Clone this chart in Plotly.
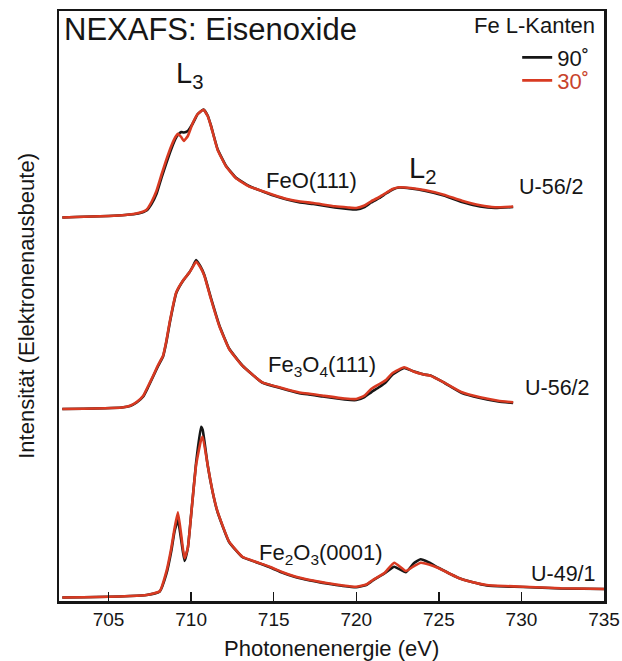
import plotly.graph_objects as go

# ---------------- data ----------------
# Energies in eV, intensities in arbitrary units (relative to each spectrum's own offset)
feo_e = [702.2, 703.0, 704.0, 705.0, 706.0, 706.8, 707.3, 707.6, 707.9, 708.2, 708.5, 708.8,
         709.05, 709.2, 709.4, 709.56, 709.8, 710.1, 710.4, 710.75, 711.0, 711.2, 711.6, 712.1,
         712.7, 713.5, 714.3, 715.0, 715.8, 716.6, 717.4, 718.7, 719.5, 720.0, 720.5, 720.9,
         721.4, 721.8, 722.2, 722.6, 723.3, 724.2, 725.3, 726.4, 727.5, 728.4, 729.5]
feo_90 = [6.5, 7.0, 7.5, 8.0, 9.0, 10.5, 13.5, 20.0, 30.0, 46.0, 61.0, 75.0,
          85.0, 89.0, 92.0, 91.5, 93.0, 100.5, 110.0, 114.5, 108.5, 98.5, 75.0, 58.5,
          46.5, 38.0, 32.8, 28.5, 24.5, 21.5, 20.0, 16.5, 15.0, 14.5, 17.0, 21.5,
          26.0, 30.5, 34.5, 36.5, 35.5, 33.0, 28.5, 22.0, 17.5, 16.0, 17.0]
feo_30 = [6.5, 7.0, 7.5, 8.0, 9.0, 11.0, 14.3, 22.0, 33.0, 49.0, 64.3, 78.0,
          87.0, 90.3, 87.0, 83.0, 88.0, 101.0, 110.0, 114.3, 108.0, 98.0, 74.3, 58.0,
          46.0, 37.7, 33.0, 29.0, 25.0, 22.5, 21.0, 17.7, 16.5, 16.0, 18.5, 22.7,
          27.0, 31.0, 35.0, 36.7, 36.0, 33.7, 29.3, 23.3, 18.7, 16.7, 17.5]

fe3o4_e = [702.2, 703.5, 704.8, 705.8, 706.3, 706.7, 707.1, 707.4, 707.7, 708.0, 708.3, 708.5,
           708.7, 708.9, 709.1, 709.5, 709.9, 710.1, 710.3, 710.55, 710.8, 711.2, 711.7, 712.3,
           713.1, 714.3, 715.5, 716.5, 718.0, 719.3, 720.0, 720.5, 720.9, 721.4, 721.8, 722.2,
           722.9, 723.5, 724.1, 724.5, 725.3, 726.4, 727.5, 728.6, 729.5]
fe3o4_90 = [6.0, 6.3, 6.7, 7.5, 9.0, 12.5, 18.5, 28.0, 38.5, 49.0, 58.5, 73.0,
            91.5, 108.0, 122.0, 134.0, 142.7, 148.5, 155.0, 149.0, 140.0, 117.0, 90.0, 66.5,
            49.5, 32.5, 26.5, 22.0, 18.5, 15.5, 15.0, 18.0, 22.7, 28.0, 33.0, 40.5,
            47.0, 43.5, 40.5, 39.5, 32.5, 22.0, 17.0, 13.5, 12.0]
fe3o4_30 = [6.0, 6.3, 6.7, 7.5, 9.3, 13.0, 19.3, 29.0, 39.3, 50.0, 59.3, 74.0,
            92.7, 109.0, 122.7, 134.3, 142.7, 148.0, 153.3, 148.0, 139.3, 116.0, 89.3, 66.0,
            49.3, 32.7, 27.0, 22.7, 19.3, 16.5, 16.0, 19.3, 26.0, 31.0, 35.0, 42.0,
            47.7, 43.3, 40.5, 39.3, 32.7, 22.7, 17.7, 14.3, 12.7]

fe2o3_e = [702.2, 703.5, 705.0, 706.3, 707.3, 708.1, 708.5, 708.8, 709.0, 709.2, 709.4, 709.6,
           709.8, 710.0, 710.3, 710.6, 710.7, 711.0, 711.3, 711.6, 712.3, 713.1, 713.9, 714.8,
           715.5, 716.3, 717.2, 718.2, 719.2, 720.0, 720.6, 721.0, 721.7, 722.3, 723.0, 723.5,
           723.9, 724.4, 725.0, 726.2, 727.0, 727.9, 729.0, 730.1, 732.4, 735.0]
fe2o3_90 = [3.5, 3.8, 4.2, 5.0, 6.0, 9.5, 27.0, 50.0, 70.0, 81.0, 61.0, 40.0,
            53.0, 86.0, 138.0, 174.3, 171.0, 136.0, 109.3, 89.0, 59.0, 44.0, 39.0, 33.5,
            28.5, 24.0, 20.5, 17.5, 15.0, 13.8, 16.0, 20.5, 27.5, 34.3, 28.7, 38.0,
            41.7, 38.5, 33.0, 23.0, 19.0, 15.5, 14.5, 14.0, 12.5, 12.0]
fe2o3_30 = [3.5, 3.8, 4.2, 5.0, 6.0, 9.8, 29.3, 53.0, 73.0, 88.7, 66.0, 42.7,
            53.0, 86.0, 136.0, 161.0, 164.3, 136.0, 109.3, 89.3, 59.3, 44.3, 39.3, 34.0,
            29.0, 24.5, 21.0, 18.0, 15.5, 14.3, 16.5, 21.0, 28.0, 38.3, 30.0, 35.0,
            38.3, 36.5, 32.7, 23.0, 19.0, 16.0, 15.0, 14.3, 12.7, 12.0]

offsets = [377, 186, 0]           # vertical offsets of FeO, Fe3O4, Fe2O3
sample_labels = ["FeO(111)", "Fe<sub>3</sub>O<sub>4</sub>(111)", "Fe<sub>2</sub>O<sub>3</sub>(0001)"]
sample_codes = ["U-56/2", "U-56/2", "U-49/1"]
legend_title = "Fe L-Kanten"
legend_names = ["90˚", "30˚"]
x_ticks = [705, 710, 715, 720, 725, 730, 735]

# ---------------- figure ----------------
FONT = "Liberation Sans, Arial, Helvetica, sans-serif"
BLACK = "#161616"
RED = "#d83a22"
RED_TXT = "#c8432c"

spectra = [(feo_e, feo_90, feo_30), (fe3o4_e, fe3o4_90, fe3o4_30), (fe2o3_e, fe2o3_90, fe2o3_30)]

fig = go.Figure()
for i, (e, b, r) in enumerate(spectra):
    off = offsets[i]
    fig.add_trace(go.Scatter(x=e, y=[v + off for v in b], mode="lines",
                             line=dict(color=BLACK, width=2.6, shape="spline", smoothing=0.4),
                             name=legend_names[0], legend="legend", showlegend=(i == 0)))
for i, (e, b, r) in enumerate(spectra):
    off = offsets[i]
    fig.add_trace(go.Scatter(x=e, y=[v + off for v in r], mode="lines",
                             line=dict(color=RED, width=2.6, shape="spline", smoothing=0.4),
                             name='<span style="color:%s">%s</span>' % (RED_TXT, legend_names[1]),
                             legend="legend2", showlegend=(i == 0)))

ann = []
# peak labels
ann.append(dict(x=709.9, y=526, text="L<sub>3</sub>", font=dict(size=29)))
ann.append(dict(x=724.0, y=431, text="L<sub>2</sub>", font=dict(size=29)))
# sample labels and codes
lab_pos = [(717.3, 421), (717.9, 235), (717.85, 47)]
code_pos = [(731.8, 414), (732.2, 213), (732.55, 27)]
for i in range(3):
    ann.append(dict(x=lab_pos[i][0], y=lab_pos[i][1], text=sample_labels[i], font=dict(size=22)))
    ann.append(dict(x=code_pos[i][0], y=code_pos[i][1], text=sample_codes[i], font=dict(size=21.5)))
for a in ann:
    a.update(xref="x", yref="y", showarrow=False, xanchor="center", yanchor="middle")
    a["font"].update(family=FONT, color=BLACK)

# title, legend heading and axis titles
ann.append(dict(xref="paper", yref="paper", x=0.006, y=0.969, xanchor="left", yanchor="middle",
                text="NEXAFS: Eisenoxide", showarrow=False, font=dict(family=FONT, size=31, color=BLACK)))
ann.append(dict(xref="paper", yref="paper", x=0.988, y=0.976, xanchor="right", yanchor="middle",
                text=legend_title, showarrow=False, font=dict(family=FONT, size=22, color=BLACK)))
ann.append(dict(xref="paper", yref="paper", x=0.5, y=-0.08, xanchor="center", yanchor="middle",
                text="Photonenenergie (eV)", showarrow=False, font=dict(family=FONT, size=22, color=BLACK)))
ann.append(dict(xref="paper", yref="paper", x=-0.061, y=0.5, xanchor="center", yanchor="middle",
                text="Intensität (Elektronenausbeute)", textangle=-90, showarrow=False,
                font=dict(family=FONT, size=22, color=BLACK)))

leg_common = dict(xanchor="right", yanchor="middle", bgcolor="rgba(0,0,0,0)",
                  font=dict(size=22, family=FONT, color=BLACK), itemwidth=30)

fig.update_layout(
    width=622, height=661,
    margin=dict(l=59, r=18, t=11, b=60, autoexpand=False),
    paper_bgcolor="white", plot_bgcolor="white",
    font=dict(family=FONT, color=BLACK),
    annotations=ann,
    showlegend=True,
    hovermode=False,
    legend=dict(x=0.982, y=0.921, **leg_common),
    legend2=dict(x=0.982, y=0.882, **leg_common),
    xaxis=dict(range=[702, 735], tickvals=x_ticks, ticktext=[str(t) for t in x_ticks],
               ticks="inside", ticklen=9, tickwidth=1.5, tickcolor=BLACK, automargin=False,
               showline=True, linewidth=2.5, linecolor=BLACK, mirror=True,
               showgrid=False, zeroline=False, tickfont=dict(size=19, family=FONT, color=BLACK)),
    yaxis=dict(range=[0, 590], showticklabels=False, ticks="", automargin=False,
               showline=True, linewidth=2.5, linecolor=BLACK, mirror=True,
               showgrid=False, zeroline=False),
)

# remove the browser's default page margin so the figure fills the 622x661 window exactly
fig.write_html("out.html", config={"displayModeBar": False, "staticPlot": True},
               post_script="document.body.style.margin='0';document.body.style.overflow='hidden';")
